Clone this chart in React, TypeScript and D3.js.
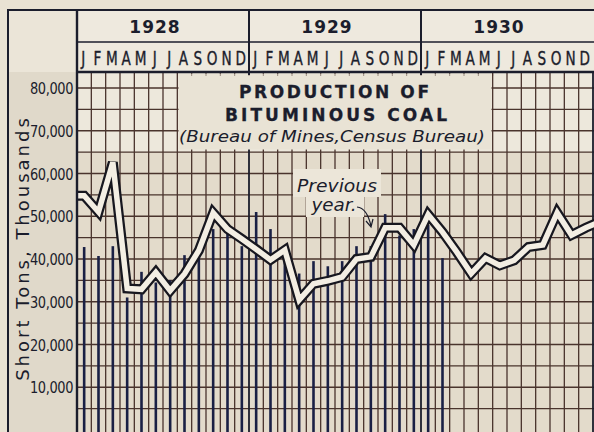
import React from 'react';
import * as d3 from 'd3';

const years = ['1928', '1929', '1930'];
const monthLetters = ['J', 'F', 'M', 'A', 'M', 'J', 'J', 'A', 'S', 'O', 'N', 'D'];
const yTicks = [10000, 20000, 30000, 40000, 50000, 60000, 70000, 80000];

// "Previous year" double line, thousands of short tons, one value a month
// (last value is the start of the following month, cut off at the edge)
const previousYear = [
  54.8, 51.0, 62.6, 33.1, 32.9, 36.9, 32.6, 36.5, 42.0, 50.8, 47.0, 44.7,
  42.3, 39.8, 42.1, 30.4, 34.2, 34.9, 35.8, 40.0, 40.5, 47.3, 47.3, 43.3,
  50.4, 46.3, 41.6, 36.6, 40.2, 38.5, 39.7, 42.8, 43.3, 50.8, 45.6, 47.3,
  48.8,
];

// current production, vertical bars, Jan 1928 - Feb 1930
const production = [
  42.8, 40.7, 43.0, 31.0, 37.0, 34.5, 35.0, 40.9, 40.5, 47.0, 46.5, 43.0,
  51.0, 47.0, 42.0, 36.6, 39.5, 38.3, 39.5, 43.0, 43.0, 50.5, 45.5, 47.0,
  48.0, 40.2,
];

const W = 594;
const H = 432;
const INK = '#1b1d2c';
const GRID = '#4a342d';
const BAR = '#1a2044';

export default function App() {
  const x = d3.scaleLinear().domain([0, 36]).range([77, 593]);
  const y = d3.scaleLinear().domain([0, 80000]).range([430, 88]);
  const top = 72;

  const monthIdx = d3.range(36);
  const gridY = d3.range(5000, 80001, 5000);

  const pts: [number, number][] = [[x(0), y(previousYear[0] * 1000)]];
  previousYear.forEach((v, i) => pts.push([x(i + 0.5), y(v * 1000)]));
  const linePath = d3.line()(pts) || '';

  const fmt = d3.format(',');

  return (
    <svg width={W} height={H} style={{ position: 'absolute', left: 0, top: 0, display: 'block' }}>
      <defs>
        <clipPath id="plot">
          <rect x={x(0)} y={top} width={W - x(0)} height={H - top} />
        </clipPath>
      </defs>
      <rect x={0} y={0} width={W} height={H} fill="#e9e2d3" />
      {/* left label panel */}
      <rect x={8} y={10} width={69} height={H} fill="#ebe5d8" />
      <rect x={8} y={top} width={69} height={H} fill="#e0d9ca" />
      {/* header */}
      <rect x={x(0)} y={10} width={W} height={top - 10} fill="#eee9de" />
      {/* plot background */}
      <rect x={x(0)} y={top} width={W} height={H} fill="#e3dbcb" />
      <rect x={x(0)} y={top} width={W} height={y(65000) - top} fill="#ede8dc" />

      <g clipPath="url(#plot)">
        {gridY.map(v => (
          <line key={'h' + v} x1={x(0)} x2={W} y1={y(v)} y2={y(v)} stroke={GRID} strokeWidth={1.4} />
        ))}
        {d3.range(1, 37).map(i => (
          <line key={'v' + i} x1={x(i)} x2={x(i)} y1={top} y2={H}
            stroke={i % 12 === 0 ? INK : GRID} strokeWidth={i % 12 === 0 ? 1.8 : 1.3} />
        ))}
      </g>

      {/* title box and label patch erase the grid */}
      <rect x={178.5} y={top + 1.5} width={313} height={76} fill="#e9e3d5" />
      {d3.range(8, 30).map(i => (
        <line key={'t' + i} x1={x(i)} x2={x(i)} y1={top} y2={top + 4} stroke={GRID} strokeWidth={1} opacity={0.5} />
      ))}
      <rect x={293} y={169} width={88} height={28} fill="#ece6d9" />
      <rect x={306} y={196} width={58} height={21} fill="#ece6d9" />

      <g clipPath="url(#plot)">
        {production.map((v, i) => (
          <line key={'b' + i} x1={x(i + 0.5)} x2={x(i + 0.5)} y1={H} y2={y(v * 1000)}
            stroke={BAR} strokeWidth={2.6} />
        ))}
        <path d={linePath} fill="none" stroke="#17171f" strokeWidth={10} strokeLinejoin="miter" />
        <path d={linePath} fill="none" stroke="#f3eee3" strokeWidth={5.5} strokeLinejoin="miter" />
      </g>

      {/* frame */}
      <line x1={8} x2={W} y1={10} y2={10} stroke={INK} strokeWidth={2} />
      <line x1={8} x2={8} y1={9} y2={H} stroke={INK} strokeWidth={2} />
      <line x1={x(0)} x2={x(0)} y1={9} y2={H} stroke={INK} strokeWidth={2.4} />
      <line x1={x(0)} x2={W} y1={42} y2={42} stroke={INK} strokeWidth={1.6} />
      <line x1={x(0)} x2={W} y1={top} y2={top} stroke={INK} strokeWidth={2.4} />
      {[12, 24].map(i => (
        <line key={'ys' + i} x1={x(i)} x2={x(i)} y1={10} y2={top + 3} stroke={INK} strokeWidth={2} />
      ))}

      {years.map((yr, k) => (
        <text key={yr} x={x(k * 12 + 6) - 8} y={33} textAnchor="middle" fill={INK}
          fontFamily="DejaVu Sans" fontWeight="bold" fontSize={17} letterSpacing={1}>{yr}</text>
      ))}
      {monthIdx.map(i => (
        <text key={'m' + i} transform={`translate(${x(i + 0.5) - 1},${65}) scale(0.8,1.1)`}
          textAnchor="middle" fill={INK} stroke={INK} strokeWidth={0.35}
          fontFamily="DejaVu Sans" fontSize={17}>
          {monthLetters[i % 12]}
        </text>
      ))}

      {yTicks.map(v => (
        <text key={'yt' + v} transform={`translate(73,${y(v) + 6}) scale(1,1.2)`} textAnchor="end"
          fill={INK} fontFamily="DejaVu Sans" fontSize={13} letterSpacing={-0.4}>{fmt(v)}</text>
      ))}
      <text transform="translate(29,248) rotate(-90)" textAnchor="middle" fill={INK}
        fontFamily="DejaVu Sans" fontSize={18} letterSpacing={3}>Short Tons, Thousands</text>

      {/* title */}
      <text x={334} y={98} textAnchor="middle" fill={INK} stroke={INK} strokeWidth={0.3}
        fontFamily="DejaVu Sans" fontWeight="bold"
        fontSize={17} textLength={190} lengthAdjust="spacing">PRODUCTION OF</text>
      <text x={336} y={121} textAnchor="middle" fill={INK} stroke={INK} strokeWidth={0.3}
        fontFamily="DejaVu Sans" fontWeight="bold"
        fontSize={17} textLength={222} lengthAdjust="spacing">BITUMINOUS COAL</text>
      <text x={332} y={142} textAnchor="middle" fill={INK} fontFamily="DejaVu Sans" fontStyle="italic"
        fontSize={15} textLength={306} lengthAdjust="spacingAndGlyphs">(Bureau of Mines,Census Bureau)</text>

      <text x={337} y={192} textAnchor="middle" fill={INK} fontFamily="DejaVu Sans" fontStyle="italic"
        fontSize={18} textLength={80} lengthAdjust="spacingAndGlyphs">Previous</text>
      <text x={334} y={211} textAnchor="middle" fill={INK} fontFamily="DejaVu Sans" fontStyle="italic"
        fontSize={18} textLength={45} lengthAdjust="spacingAndGlyphs">year.</text>
      <path d="M357,207 Q367,208 371,226" fill="none" stroke={INK} strokeWidth={1.2} />
      <path d="M366,221 L371,227 L373,219" fill="none" stroke={INK} strokeWidth={1.2} />
    </svg>
  );
}
